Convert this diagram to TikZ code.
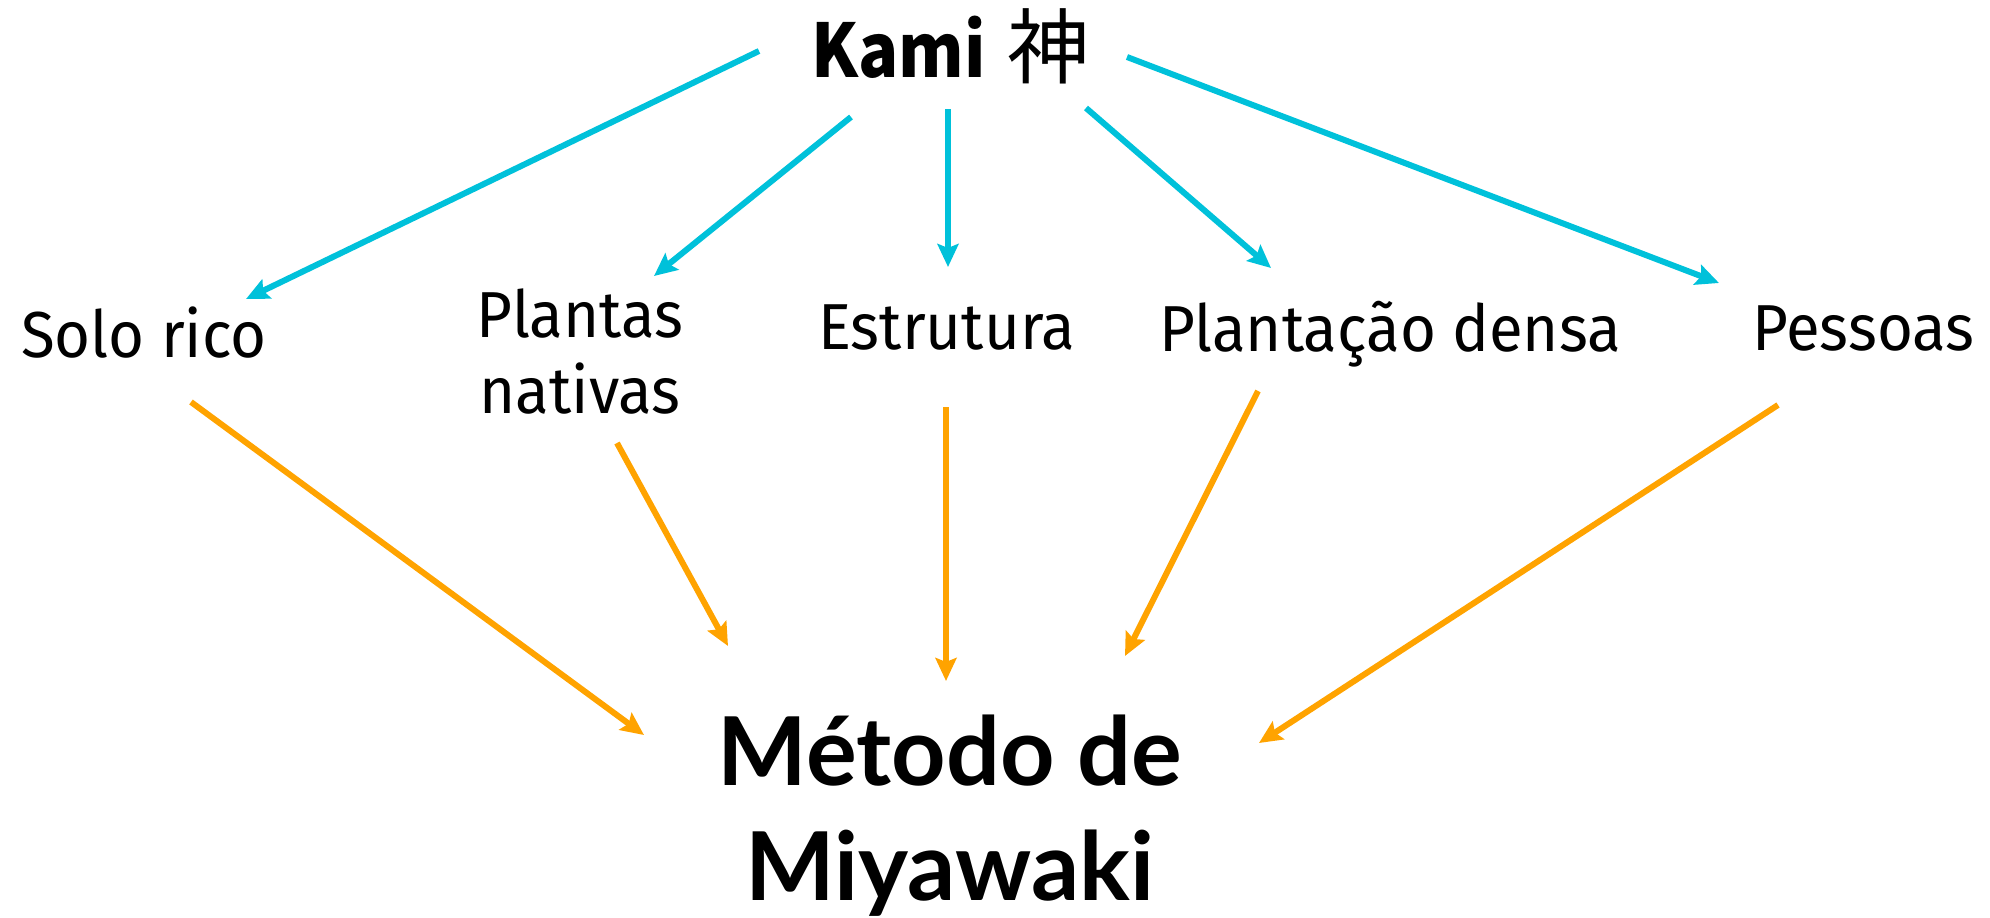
\documentclass[tikz,border=0pt]{standalone}
\usepackage{fontspec}
\setmainfont{Fira Sans}[FakeStretch=0.95]
\newfontfamily\titlefont{Lato}
\newfontfamily\cjk{Noto Sans CJK JP}[FakeStretch=0.9]
\newfontfamily\cjkwide{Noto Sans CJK JP}
\usetikzlibrary{arrows.meta}
\definecolor{kblue}{HTML}{00C1DA}
\definecolor{korange}{HTML}{FFA300}
\tikzset{
  lbl/.style={inner sep=0pt, font=\fontsize{65}{76}\selectfont, anchor=base west},
  bluearr/.style={draw=kblue, line width=6pt, -{Stealth[length=23pt,width=21pt,inset=4pt]}},
  orangearr/.style={draw=korange, line width=6pt, -{Stealth[length=23pt,width=21pt,inset=4pt]}}
}
\begin{document}
\begin{tikzpicture}[x=1pt,y=-1pt]
\useasboundingbox (0,0) rectangle (1990,918);
% nodes
\node[inner sep=0pt, anchor=base west, font=\cjk\fontsize{74}{80}\selectfont] (kami) at (811,77) {\textbf{Kami}\hspace{22pt}{\cjkwide\fontsize{82}{86}\selectfont 神}};
\node[lbl] (solo) at (21,357) {Solo rico};
\node[lbl, align=center, anchor=base] (plantas) at (580,413) {Plantas\\nativas};
\node[lbl] (estr) at (818,349) {Estrutura};
\node[lbl] (dens) at (1159,351) {Plantação densa};
\node[lbl] (pess) at (1752,350) {Pessoas};
\node[inner sep=0pt, anchor=base, align=center, font=\titlefont\bfseries\fontsize{95}{115}\selectfont] (metodo) at (950,900) {Método de\\Miyawaki};
% connector end points
\coordinate (k1) at (759,51);   \coordinate (s1) at (246,299);
\coordinate (k2) at (851,117);  \coordinate (p1) at (654,276);
\coordinate (k3) at (948,109);  \coordinate (e1) at (948,267);
\coordinate (k4) at (1086,108); \coordinate (d1) at (1271,268);
\coordinate (k5) at (1127,57);  \coordinate (q1) at (1719,283);
\coordinate (s2) at (191,402);  \coordinate (m1) at (644,735);
\coordinate (p2) at (617,443);  \coordinate (m2) at (728,646);
\coordinate (e2) at (946,407);  \coordinate (m3) at (946,681);
\coordinate (d2) at (1258,391); \coordinate (m4) at (1125,656);
\coordinate (q2) at (1778,405); \coordinate (m5) at (1259,743);
% blue arrows
\draw[bluearr] (k1) -- (s1);
\draw[bluearr] (k2) -- (p1);
\draw[bluearr] (k3) -- (e1);
\draw[bluearr] (k4) -- (d1);
\draw[bluearr] (k5) -- (q1);
% orange arrows
\draw[orangearr] (s2) -- (m1);
\draw[orangearr] (p2) -- (m2);
\draw[orangearr] (e2) -- (m3);
\draw[orangearr] (d2) -- (m4);
\draw[orangearr] (q2) -- (m5);
\end{tikzpicture}
\end{document}
